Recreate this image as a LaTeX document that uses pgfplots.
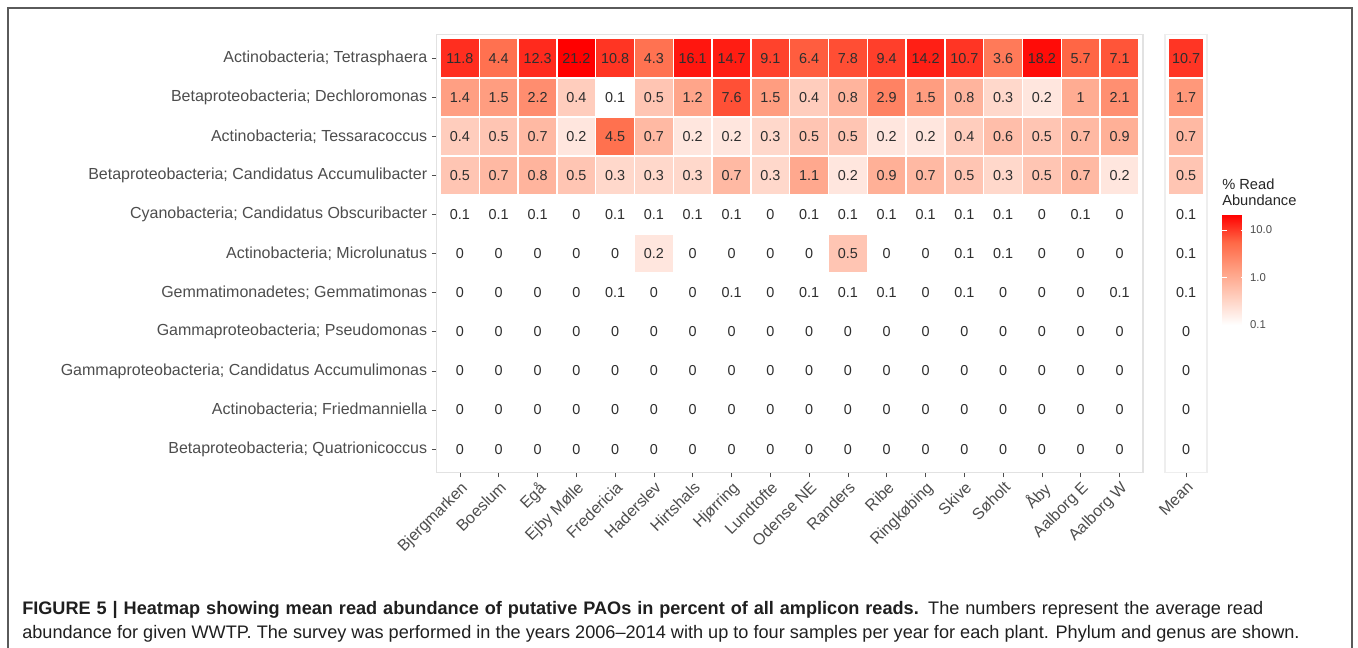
\documentclass[border=0pt]{standalone}
\usepackage{pgfplots}
\pgfplotsset{compat=1.18}
\usepackage{pgfplotstable}
\usepackage{fontspec}
\setmainfont{Liberation Sans}

\definecolor{axgrey}{RGB}{77,77,77}
\definecolor{panelgrey}{RGB}{226,226,226}
\definecolor{framegrey}{RGB}{90,90,90}

% mean read abundance (%) per plant; x = plant, y = taxon (11 = top row)
\pgfplotstableread[row sep=\\]{
x y v \\
1 11 11.8 \\ 2 11 4.4 \\ 3 11 12.3 \\ 4 11 21.2 \\ 5 11 10.8 \\ 6 11 4.3 \\ 7 11 16.1 \\ 8 11 14.7 \\ 9 11 9.1 \\ 10 11 6.4 \\ 11 11 7.8 \\ 12 11 9.4 \\ 13 11 14.2 \\ 14 11 10.7 \\ 15 11 3.6 \\ 16 11 18.2 \\ 17 11 5.7 \\ 18 11 7.1 \\
1 10 1.4 \\ 2 10 1.5 \\ 3 10 2.2 \\ 4 10 0.4 \\ 5 10 0.1 \\ 6 10 0.5 \\ 7 10 1.2 \\ 8 10 7.6 \\ 9 10 1.5 \\ 10 10 0.4 \\ 11 10 0.8 \\ 12 10 2.9 \\ 13 10 1.5 \\ 14 10 0.8 \\ 15 10 0.3 \\ 16 10 0.2 \\ 17 10 1 \\ 18 10 2.1 \\
1 9 0.4 \\ 2 9 0.5 \\ 3 9 0.7 \\ 4 9 0.2 \\ 5 9 4.5 \\ 6 9 0.7 \\ 7 9 0.2 \\ 8 9 0.2 \\ 9 9 0.3 \\ 10 9 0.5 \\ 11 9 0.5 \\ 12 9 0.2 \\ 13 9 0.2 \\ 14 9 0.4 \\ 15 9 0.6 \\ 16 9 0.5 \\ 17 9 0.7 \\ 18 9 0.9 \\
1 8 0.5 \\ 2 8 0.7 \\ 3 8 0.8 \\ 4 8 0.5 \\ 5 8 0.3 \\ 6 8 0.3 \\ 7 8 0.3 \\ 8 8 0.7 \\ 9 8 0.3 \\ 10 8 1.1 \\ 11 8 0.2 \\ 12 8 0.9 \\ 13 8 0.7 \\ 14 8 0.5 \\ 15 8 0.3 \\ 16 8 0.5 \\ 17 8 0.7 \\ 18 8 0.2 \\
1 7 0.1 \\ 2 7 0.1 \\ 3 7 0.1 \\ 4 7 0 \\ 5 7 0.1 \\ 6 7 0.1 \\ 7 7 0.1 \\ 8 7 0.1 \\ 9 7 0 \\ 10 7 0.1 \\ 11 7 0.1 \\ 12 7 0.1 \\ 13 7 0.1 \\ 14 7 0.1 \\ 15 7 0.1 \\ 16 7 0 \\ 17 7 0.1 \\ 18 7 0 \\
1 6 0 \\ 2 6 0 \\ 3 6 0 \\ 4 6 0 \\ 5 6 0 \\ 6 6 0.2 \\ 7 6 0 \\ 8 6 0 \\ 9 6 0 \\ 10 6 0 \\ 11 6 0.5 \\ 12 6 0 \\ 13 6 0 \\ 14 6 0.1 \\ 15 6 0.1 \\ 16 6 0 \\ 17 6 0 \\ 18 6 0 \\
1 5 0 \\ 2 5 0 \\ 3 5 0 \\ 4 5 0 \\ 5 5 0.1 \\ 6 5 0 \\ 7 5 0 \\ 8 5 0.1 \\ 9 5 0 \\ 10 5 0.1 \\ 11 5 0.1 \\ 12 5 0.1 \\ 13 5 0 \\ 14 5 0.1 \\ 15 5 0 \\ 16 5 0 \\ 17 5 0 \\ 18 5 0.1 \\
1 4 0 \\ 2 4 0 \\ 3 4 0 \\ 4 4 0 \\ 5 4 0 \\ 6 4 0 \\ 7 4 0 \\ 8 4 0 \\ 9 4 0 \\ 10 4 0 \\ 11 4 0 \\ 12 4 0 \\ 13 4 0 \\ 14 4 0 \\ 15 4 0 \\ 16 4 0 \\ 17 4 0 \\ 18 4 0 \\
1 3 0 \\ 2 3 0 \\ 3 3 0 \\ 4 3 0 \\ 5 3 0 \\ 6 3 0 \\ 7 3 0 \\ 8 3 0 \\ 9 3 0 \\ 10 3 0 \\ 11 3 0 \\ 12 3 0 \\ 13 3 0 \\ 14 3 0 \\ 15 3 0 \\ 16 3 0 \\ 17 3 0 \\ 18 3 0 \\
1 2 0 \\ 2 2 0 \\ 3 2 0 \\ 4 2 0 \\ 5 2 0 \\ 6 2 0 \\ 7 2 0 \\ 8 2 0 \\ 9 2 0 \\ 10 2 0 \\ 11 2 0 \\ 12 2 0 \\ 13 2 0 \\ 14 2 0 \\ 15 2 0 \\ 16 2 0 \\ 17 2 0 \\ 18 2 0 \\
1 1 0 \\ 2 1 0 \\ 3 1 0 \\ 4 1 0 \\ 5 1 0 \\ 6 1 0 \\ 7 1 0 \\ 8 1 0 \\ 9 1 0 \\ 10 1 0 \\ 11 1 0 \\ 12 1 0 \\ 13 1 0 \\ 14 1 0 \\ 15 1 0 \\ 16 1 0 \\ 17 1 0 \\ 18 1 0 \\
}\abund

% mean over all plants
\pgfplotstableread[row sep=\\]{
x y v \\
1 11 10.7 \\ 1 10 1.7 \\ 1 9 0.7 \\ 1 8 0.5 \\ 1 7 0.1 \\ 1 6 0.1 \\ 1 5 0.1 \\ 1 4 0 \\ 1 3 0 \\ 1 2 0 \\ 1 1 0 \\
}\abundmean

\pgfplotsset{
  heatmap colours/.style={
    colormap={whitered}{rgb255=(255,255,255) rgb255=(255,207,191) rgb255=(255,158,129) rgb255=(255,104,70) rgb255=(255,0,0)},
    point meta min=-1, point meta max=1.3263,
  },
  heat/.style={
    heatmap colours,
    scale only axis, clip=false,
    ymin=0.4, ymax=11.6,
    axis line style={draw=panelgrey, line width=1.1pt},
    xtick pos=left, ytick pos=left, tick align=outside,
    major tick length=3.6pt,
    tick style={draw=axgrey, line width=0.5pt},
    ticklabel style={font=\fontsize{12}{13}\selectfont, text=axgrey},
    x tick label style={rotate=45, anchor=north east, inner sep=1.5pt},
    /pgf/number format/assume math mode=true,
  },
  tile plot/.style={scatter, only marks, mark=square*, mark size=14.55pt, line width=1.1pt,
    scatter/use mapped color={draw=white, fill=mapped color},
    point meta=explicit},
  value labels/.style={only marks, mark=text, text mark={},
    point meta=explicit symbolic, nodes near coords={\pgfplotspointmeta},
    nodes near coords style={anchor=center, inner sep=0pt, font=\fontsize{10.8}{12}\selectfont, text=black!82}},
}

\begin{document}
\begin{tikzpicture}
\useasboundingbox (0pt,0pt) rectangle (1018.5pt,-485.25pt);

\begin{axis}[heat,
  at={(327.5pt,-354.4pt)}, anchor=south west,
  width=529.6pt, height=328.4pt,
  xmin=0.4, xmax=18.6,
  xtick={1,...,18}, ytick={1,...,11},
  xticklabels={Bjergmarken,Boeslum,Egå,Ejby Mølle,Fredericia,Haderslev,Hirtshals,Hjørring,Lundtofte,Odense NE,Randers,Ribe,Ringkøbing,Skive,Søholt,Åby,Aalborg E,Aalborg W},
  yticklabels={Betaproteobacteria; Quatrionicoccus,Actinobacteria; Friedmanniella,Gammaproteobacteria; Candidatus Accumulimonas,Gammaproteobacteria; Pseudomonas,Gemmatimonadetes; Gemmatimonas,Actinobacteria; Microlunatus,Cyanobacteria; Candidatus Obscuribacter,Betaproteobacteria; Candidatus Accumulibacter,Actinobacteria; Tessaracoccus,Betaproteobacteria; Dechloromonas,Actinobacteria; Tetrasphaera},
]
% log10 colour scale, floored at 0.1
\addplot[tile plot] table[x=x, y=y, meta expr={log10(max(\thisrow{v},0.1))}] {\abund};
\addplot[value labels] table[x=x, y=y, meta=v] {\abund};
\end{axis}

\begin{axis}[heat,
  at={(873.75pt,-354.4pt)}, anchor=south west,
  width=31.5pt, height=328.4pt,
  xmin=0.4, xmax=1.6,
  xtick={1}, xticklabels={Mean}, ytick=\empty,
  axis line style={draw=panelgrey!60, line width=1.1pt},
]
\addplot[tile plot, mark options={xscale=0.9}] table[x=x, y=y, meta expr={log10(max(\thisrow{v},0.1))}] {\abundmean};
\addplot[value labels] table[x=x, y=y, meta=v] {\abundmean};
\end{axis}

% colour bar (log10 scale)
\begin{axis}[heatmap colours, hide axis, scale only axis,
  at={(908.25pt,-243.75pt)}, anchor=south west,
  width=17.25pt, height=1pt, xmin=0, xmax=1, ymin=0, ymax=1,
  colorbar,
  colorbar style={
    at={([xshift=-8.25pt]parent axis.south west)}, anchor=south west,
    scale only axis, width=17.25pt, height=82.9pt,
    ytick={-1,0,1}, yticklabels={0.1,1.0,10.0},
    yticklabel style={font=\fontsize{8.5}{10}\selectfont, text=axgrey},
    axis line style={draw=none},
    major tick length=3.5pt, tick align=inside,
    tick style={draw=white, line width=0.6pt},
  },
]
\addplot[draw=none] coordinates {(0,0) (1,1)};
\end{axis}

% colour bar title
\node[anchor=base west, inner sep=0, font=\fontsize{11}{13}\selectfont, text=black!85] at (916.5pt,-141.75pt) {\% Read};
\node[anchor=base west, inner sep=0, font=\fontsize{11}{13}\selectfont, text=black!85] at (916.5pt,-153.75pt) {Abundance};

% figure frame
\draw[framegrey, line width=1.4pt] (6pt,-486pt) -- (6pt,-6pt) -- (1014pt,-6pt) -- (1014pt,-486pt);

% caption
\node[anchor=base west, inner sep=0, font=\fontsize{13.6}{16}\selectfont, text=black!88] at (16.5pt,-460.5pt)
  {\makebox[930.75pt][s]{\textbf{FIGURE 5 | Heatmap showing mean read abundance of putative PAOs in percent of all amplicon reads.} The numbers represent the average read}};
\node[anchor=base west, inner sep=0, font=\fontsize{13.6}{16}\selectfont, text=black!88] at (16.5pt,-479pt)
  {abundance for given WWTP. The survey was performed in the years 2006--2014 with up to four samples per year for each plant. Phylum and genus are shown.};
\end{tikzpicture}
\end{document}
